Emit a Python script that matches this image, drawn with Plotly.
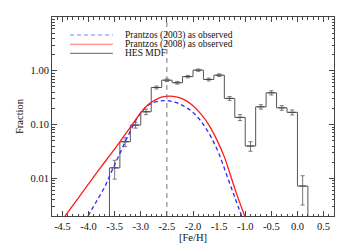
import plotly.graph_objects as go

# ---- data ----
bin_edges = [-3.6, -3.4, -3.2, -3.0, -2.8, -2.6, -2.4, -2.2, -2.0, -1.8, -1.6,
             -1.4, -1.2, -1.0, -0.8, -0.6, -0.4, -0.2, 0.0, 0.2]
bin_centers = [-3.5, -3.3, -3.1, -2.9, -2.7, -2.5, -2.3, -2.1, -1.9, -1.7, -1.5,
               -1.3, -1.1, -0.9, -0.7, -0.5, -0.3, -0.1, 0.1]
hes_mdf = [0.0157, 0.048, 0.098, 0.173, 0.49, 0.67, 0.60, 0.78, 1.03, 0.69, 0.83,
           0.307, 0.136, 0.040, 0.214, 0.39, 0.205, 0.169, 0.0072]
hes_err = [0.006, 0.009, 0.012, 0.02, 0.03, 0.04, 0.035, 0.04, 0.05, 0.04, 0.045,
           0.025, 0.017, 0.008, 0.02, 0.035, 0.02, 0.018, 0.004]
hist_floor = 1e-4

p2008_x = [-4.45, -4.2, -4.0, -3.8, -3.6, -3.4, -3.2, -3.0, -2.85, -2.7, -2.6,
           -2.45, -2.3, -2.15, -2.0, -1.85, -1.7, -1.55, -1.4, -1.27, -1.15, -1.01]
p2008_y = [0.002, 0.00427, 0.0079, 0.0145, 0.0263, 0.0479, 0.0891, 0.166, 0.240,
           0.295, 0.324, 0.339, 0.324, 0.285, 0.224, 0.158, 0.100, 0.0537, 0.0251,
           0.0105, 0.00468, 0.002]

p2003_x = [-4.01, -3.85, -3.69, -3.55, -3.4, -3.25, -3.1, -2.96, -2.85, -2.7, -2.55,
           -2.4, -2.25, -2.1, -1.95, -1.8, -1.65, -1.5, -1.35, -1.2, -1.07]
p2003_y = [0.002, 0.00372, 0.00698, 0.0141, 0.0292, 0.0603, 0.117, 0.186, 0.232,
           0.266, 0.280, 0.269, 0.240, 0.200, 0.151, 0.100, 0.0575, 0.0282, 0.0112,
           0.00447, 0.002]

peak_line_x = -2.5

x_ticks = [-4.5, -4.0, -3.5, -3.0, -2.5, -2.0, -1.5, -1.0, -0.5, 0.0, 0.5]
x_tick_text = ["-4.5", "-4.0", "-3.5", "-3.0", "-2.5", "-2.0", "-1.5", "-1.0",
               "-0.5", "0.0", "0.5"]
y_ticks = [0.01, 0.1, 1.0]
y_tick_text = ["0.01", "0.10", "1.00"]

legend_names = ["Prantzos (2003) as observed", "Prantzos (2008) as observed", "HES MDF"]

FONT = "Liberation Serif, Times New Roman, serif"
BLUE = "#2a2aff"
RED = "#ff1a1a"
HIST = "#555555"

fig = go.Figure()

# histogram as a step line
step_x = [bin_edges[0]] + bin_edges
step_y = [hist_floor] + hes_mdf + [hist_floor]
fig.add_trace(go.Scatter(x=step_x, y=step_y, mode="lines", line_shape="hv",
                         line=dict(color=HIST, width=1), name=legend_names[2],
                         showlegend=False, hoverinfo="skip"))

fig.add_trace(go.Scatter(x=bin_centers, y=hes_mdf, mode="markers",
                         marker=dict(symbol="line-ew", size=5,
                                     line=dict(color="#444444", width=1)),
                         error_y=dict(type="data", array=hes_err, visible=True,
                                      color="#777777", thickness=1, width=2),
                         showlegend=False))

fig.add_trace(go.Scatter(x=p2003_x, y=p2003_y, mode="lines", line_shape="spline",
                         line=dict(color=BLUE, width=1.3, dash="4px,3px"),
                         name=legend_names[0], showlegend=False))
fig.add_trace(go.Scatter(x=p2008_x, y=p2008_y, mode="lines", line_shape="spline",
                         line=dict(color=RED, width=1.3),
                         name=legend_names[1], showlegend=False))

# vertical dashed line
fig.add_shape(type="line", xref="x", yref="paper", x0=peak_line_x, x1=peak_line_x,
              y0=0, y1=1, line=dict(color="#777777", width=1, dash="5px,4px"))

# compact manual legend
leg_rows = [0.9095, 0.863, 0.8176]
leg_styles = [dict(color="#8080ff", width=1, dash="4px,3px"),
              dict(color="#ff7070", width=1),
              dict(color="#666666", width=1)]
for name, yy, st in zip(legend_names, leg_rows, leg_styles):
    fig.add_shape(type="line", xref="paper", yref="paper", x0=0.064, x1=0.216,
                  y0=yy, y1=yy, line=st)
    fig.add_annotation(xref="paper", yref="paper", x=0.252, y=yy, text=name,
                       showarrow=False, xanchor="left", yanchor="middle",
                       font=dict(family=FONT, size=9.5, color="#111111"))

axis_common = dict(showline=True, linecolor="#444444", linewidth=1, mirror="allticks",
                   ticks="inside", ticklen=5, tickcolor="#444444", showgrid=False,
                   zeroline=False, automargin=False,
                   tickfont=dict(family=FONT, size=10.5, color="#111111"))

fig.update_xaxes(range=[-4.7, 0.7], tickvals=x_ticks, ticktext=x_tick_text,
                 minor=dict(dtick=0.1, ticks="inside", ticklen=2.5, tickcolor="#444444",
                            showgrid=False),
                 title=dict(text="[Fe/H]", font=dict(family=FONT, size=10.5, color="#111111"),
                            standoff=2),
                 **axis_common)
fig.update_yaxes(type="log", range=[-2.699, 1.0], tickvals=y_ticks, ticktext=y_tick_text,
                 minor=dict(dtick="D1", ticks="inside", ticklen=2.5, tickcolor="#444444",
                            showgrid=False),
                 title=dict(text="Fraction", font=dict(family=FONT, size=10.5, color="#111111"),
                            standoff=4),
                 **axis_common)

# page body adds an 8px offset; margins compensate so the frame sits at 52..334 x 17..216
fig.update_layout(width=350, height=250, margin=dict(l=44, r=24, t=9, b=42),
                  paper_bgcolor="white", plot_bgcolor="white", showlegend=False,
                  font=dict(family=FONT, size=10))

fig.write_html("out.html")
